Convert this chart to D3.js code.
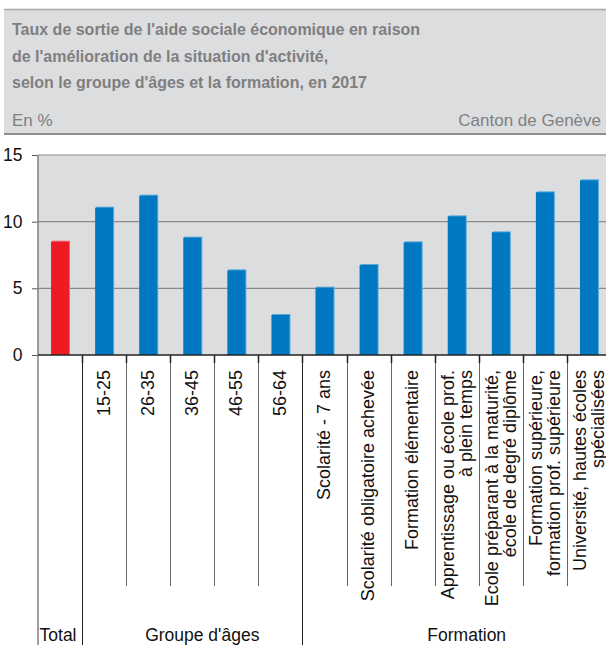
<!DOCTYPE html>
<html>
<head>
<meta charset="utf-8">
<script src="https://cdn.jsdelivr.net/npm/d3@7"></script>
<style>
  body { margin: 0; background: #fff; }
  svg { display: block; font-family: "Liberation Sans", Arial, sans-serif; }
</style>
</head>
<body>
<div id="chart"></div>
<script>
// Data
var categories = ["Total", "15-25", "26-35", "36-45", "46-55", "56-64",
  "Scolarité - 7 ans",
  "Scolarité obligatoire achevée",
  "Formation élémentaire",
  "Apprentissage ou école prof.\nà plein temps",
  "Ecole préparant à la maturité,\nécole de degré diplôme",
  "Formation supérieure,\nformation prof. supérieure",
  "Université, hautes écoles\nspécialisées"];
var values = [8.5, 11.05, 11.95, 8.8, 6.35, 3.0, 5.05, 6.75, 8.45, 10.4, 9.2, 12.2, 13.1];
var groupNames = ["Total", "Groupe d'âges", "Formation"];
var groupOf = [0, 1, 1, 1, 1, 1, 2, 2, 2, 2, 2, 2, 2];
var yTicks = [0, 5, 10, 15];
var titleLines = ["Taux de sortie de l'aide sociale économique en raison",
  "de l'amélioration de la situation d'activité,",
  "selon le groupe d'âges et la formation, en 2017"];

// Dimensions
var svgWidth = 606;
var svgHeight = 645;
var plot = { left: 38, right: 611, top: 155, bottom: 355 };

var svg = d3.select("#chart")
  .append("svg")
  .attr("width", svgWidth)
  .attr("height", svgHeight);

// Header box
svg.append("rect")
  .attr("x", 4).attr("y", 9)
  .attr("width", svgWidth - 4).attr("height", 125)
  .attr("fill", "#dcdddf");
svg.append("line")
  .attr("x1", 4).attr("x2", svgWidth).attr("y1", 9.5).attr("y2", 9.5)
  .attr("stroke", "#a8a8a8").attr("stroke-width", 1.5);
svg.append("line")
  .attr("x1", 4).attr("x2", svgWidth).attr("y1", 134).attr("y2", 134)
  .attr("stroke", "#8c8c8c").attr("stroke-width", 2);

svg.selectAll(".title")
  .data(titleLines)
  .enter()
  .append("text")
  .attr("class", "title")
  .attr("x", 12)
  .attr("y", (d, i) => 35 + i * 26.7)
  .attr("font-size", "16px")
  .attr("font-weight", "bold")
  .attr("fill", "#7f7f7f")
  .text(d => d);

svg.append("text")
  .attr("x", 12).attr("y", 126)
  .attr("font-size", "17px")
  .attr("fill", "#808080")
  .text("En %");
svg.append("text")
  .attr("x", 601).attr("y", 126)
  .attr("font-size", "17px")
  .attr("text-anchor", "end")
  .attr("fill", "#808080")
  .text("Canton de Genève");

// Scales
var xScale = d3.scaleBand()
  .domain(categories)
  .range([plot.left, plot.right])
  .padding(0);

var yScale = d3.scaleLinear()
  .domain([0, 15])
  .range([plot.bottom, plot.top]);

// Plot background
svg.append("rect")
  .attr("x", plot.left).attr("y", plot.top)
  .attr("width", plot.right - plot.left).attr("height", plot.bottom - plot.top)
  .attr("fill", "#dcdddf");

// Gridlines + y ticks
var leftAxis = d3.axisLeft(yScale)
  .tickValues(yTicks)
  .tickSize(6)
  .tickPadding(9.5);

var yAxisG = svg.append("g")
  .attr("transform", `translate(${plot.left}, 0)`)
  .call(leftAxis);
yAxisG.select(".domain").remove();
yAxisG.selectAll(".tick line").attr("stroke", "#555");
yAxisG.selectAll(".tick text")
  .attr("font-size", "17.5px")
  .attr("font-family", "Liberation Sans, Arial, sans-serif")
  .attr("fill", "#111");

svg.append("g")
  .selectAll("line")
  .data(yTicks.filter(d => d > 0))
  .enter()
  .append("line")
  .attr("x1", plot.left).attr("x2", svgWidth)
  .attr("y1", d => yScale(d)).attr("y2", d => yScale(d))
  .attr("stroke", "#8a8a8a").attr("stroke-width", 1.2);

// y axis line
svg.append("line")
  .attr("x1", plot.left).attr("x2", plot.left)
  .attr("y1", plot.top).attr("y2", svgHeight)
  .attr("stroke", "#808080").attr("stroke-width", 1.5);

// Bars
var barW = 18;
var barsG = svg.append("g");
categories.forEach(function(c, i) {
  var cx = xScale(c) + xScale.bandwidth() / 2;
  // light edge (top/right)
  barsG.append("rect")
    .attr("x", cx - barW / 2 + 1)
    .attr("y", yScale(values[i]) - 1)
    .attr("width", barW)
    .attr("height", yScale(0) - yScale(values[i]) + 1)
    .attr("fill", i === 0 ? "#f26a6f" : "#5aa7d8");
  barsG.append("rect")
    .attr("x", cx - barW / 2)
    .attr("y", yScale(values[i]))
    .attr("width", barW)
    .attr("height", yScale(0) - yScale(values[i]))
    .attr("fill", i === 0 ? "#ed1c24" : "#0079c2");
});

// x axis line
svg.append("line")
  .attr("x1", plot.left).attr("x2", svgWidth)
  .attr("y1", plot.bottom).attr("y2", plot.bottom)
  .attr("stroke", "#222").attr("stroke-width", 1.5);

// Category separators below the axis
var sepG = svg.append("g");
categories.forEach(function(c, i) {
  if (i === 0) return;
  var x = Math.round(xScale(c)) + 0.5;
  var isGroupEdge = groupOf[i] !== groupOf[i - 1];
  sepG.append("line")
    .attr("x1", x).attr("x2", x)
    .attr("y1", plot.bottom).attr("y2", isGroupEdge ? svgHeight : 586)
    .attr("stroke", isGroupEdge ? "#222" : "#666").attr("stroke-width", 1);
  sepG.append("line")
    .attr("x1", x).attr("x2", x)
    .attr("y1", plot.bottom).attr("y2", plot.bottom + 8)
    .attr("stroke", "#222").attr("stroke-width", 1.5);
});

// Rotated category labels
var lineH = 18;
var labelG = svg.append("g");
categories.forEach(function(c, i) {
  if (groupOf[i] === 0) return;
  var lines = c.split("\n");
  var cx = xScale(c) + xScale.bandwidth() / 2;
  var t = labelG.append("text")
    .attr("transform", `translate(${cx - 0.5}, 370) rotate(-90)`)
    .attr("text-anchor", "end")
    .attr("font-size", "18px")
    .attr("fill", "#111");
  lines.forEach(function(l, j) {
    t.append("tspan")
      .attr("x", 0)
      .attr("y", (j - (lines.length - 1) / 2) * lineH)
      .attr("dy", "0.35em")
      .text(l);
  });
});

// Group labels
groupNames.forEach(function(g, gi) {
  var idx = categories.filter((c, i) => groupOf[i] === gi);
  var x0 = xScale(idx[0]);
  var x1 = xScale(idx[idx.length - 1]) + xScale.bandwidth();
  var shift = gi === 0 ? -2 : 10;
  svg.append("text")
    .attr("x", (x0 + x1) / 2 + shift)
    .attr("y", 641)
    .attr("text-anchor", "middle")
    .attr("font-size", "17.5px")
    .attr("fill", "#111")
    .text(g);
});
</script>
</body>
</html>
